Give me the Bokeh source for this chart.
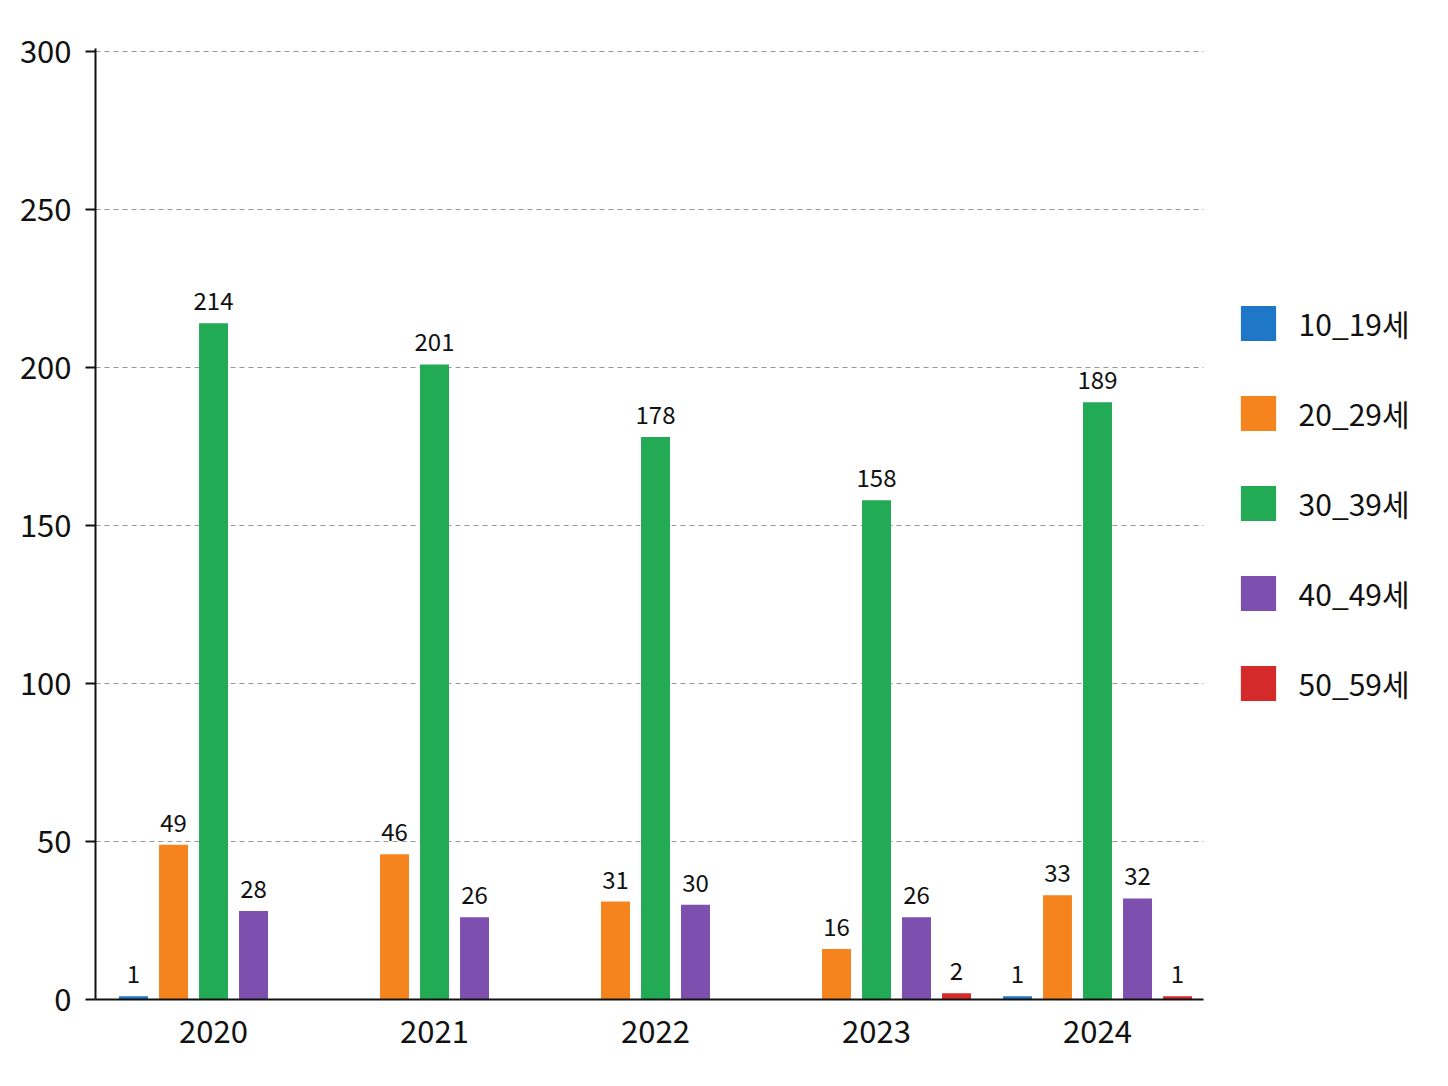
from bokeh.plotting import figure
from bokeh.models import Range1d, FixedTicker, Legend, LegendItem
from bokeh.core.properties import value
from bokeh.embed import file_html
from bokeh.resources import INLINE

years = ["2020", "2021", "2022", "2023", "2024"]
age_groups = ["10_19세", "20_29세", "30_39세", "40_49세", "50_59세"]
counts_10s = [1, 0, 0, 0, 1]
counts_20s = [49, 46, 31, 16, 33]
counts_30s = [214, 201, 178, 158, 189]
counts_40s = [28, 26, 30, 26, 32]
counts_50s = [0, 0, 0, 2, 1]
colors = ["#1f77c8", "#f5841f", "#22aa55", "#7d4fae", "#d42a2a"]

FONT = "Noto Sans CJK KR"

# data area covers x in (-0.534, 4.48); the frame runs further right to hold the legend
X0, X1 = -0.534, 4.48

p = figure(width=1440, height=1080,
           x_range=Range1d(X0, 5.552), y_range=Range1d(0, 301),
           output_backend="svg", toolbar_location=None,
           min_border_left=95, min_border_right=0,
           min_border_top=48, min_border_bottom=81)
p.outline_line_color = None
p.background_fill_color = "white"
p.border_fill_color = "white"

series = [counts_10s, counts_20s, counts_30s, counts_40s, counts_50s]
bar_w = 0.131
step = 0.181

items = []
for i, (name, vals, col) in enumerate(zip(age_groups, series, colors)):
    off = (i - 2) * step
    xs = [j + off for j, v in enumerate(vals) if v > 0]
    ys = [v for v in vals if v > 0]
    r = p.vbar(x=xs, top=ys, width=bar_w, fill_color=col, line_color=None)
    p.text(x=xs, y=ys, text=[str(v) for v in ys], text_align="center",
           text_baseline="alphabetic", y_offset=-22,
           text_font=value(FONT), text_font_size="24px", text_color="#111111")
    items.append(LegendItem(label=name, renderers=[r]))

legend = Legend(items=items, location=(1140.6, 294),
                glyph_width=44, glyph_height=44, spacing=46, padding=0, margin=0,
                label_standoff=19, label_height=44,
                label_text_font=FONT, label_text_font_size="30px",
                label_text_color="#111111",
                border_line_color=None, background_fill_alpha=0)
p.add_layout(legend)

p.xaxis.bounds = (X0, X1)
p.xaxis.ticker = FixedTicker(ticks=list(range(len(years))))
p.xaxis.major_label_overrides = {j: y for j, y in enumerate(years)}
p.xaxis.major_tick_line_color = None
p.xaxis.minor_tick_line_color = None
p.xaxis.axis_line_width = 2
p.xaxis.axis_line_color = "#111111"
p.xaxis.major_label_standoff = 14
p.xaxis.major_label_text_font = FONT
p.xaxis.major_label_text_font_size = "31px"
p.xaxis.major_label_text_color = "#111111"

p.yaxis.ticker = FixedTicker(ticks=[0, 50, 100, 150, 200, 250, 300])
p.yaxis.axis_line_width = 2
p.yaxis.axis_line_color = "#111111"
p.yaxis.major_tick_line_width = 2
p.yaxis.major_tick_line_color = "#111111"
p.yaxis.major_tick_out = 10
p.yaxis.major_tick_in = 0
p.yaxis.minor_tick_line_color = None
p.yaxis.major_label_standoff = 14
p.yaxis.major_label_text_font = FONT
p.yaxis.major_label_text_font_size = "31px"
p.yaxis.major_label_text_color = "#111111"

p.xgrid.grid_line_color = None
p.ygrid.cross_bounds = (X0, X1)
p.ygrid.grid_line_color = "#999999"
p.ygrid.grid_line_dash = "5 4"
p.ygrid.grid_line_width = 1

open("out.html", "w").write(file_html(p, INLINE))
